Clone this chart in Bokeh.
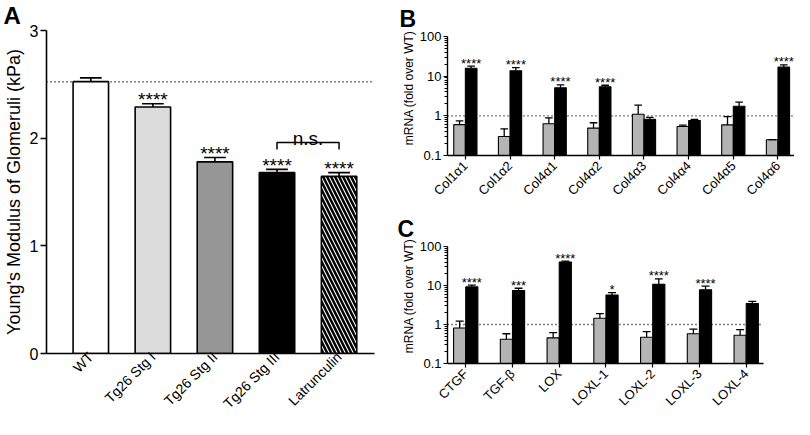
import math
from bokeh.plotting import figure
from bokeh.layouts import row, column
from bokeh.models import (Range1d, Title, FixedTicker, CustomJSTickFormatter,
                          ColumnDataSource, Span)
from bokeh.core.properties import value
from bokeh.embed import file_html
from bokeh.resources import INLINE

FONT = "Liberation Sans"

# ---------------- Panel A data ----------------
a_groups = ["WT", "Tg26 Stg I", "Tg26 Stg II", "Tg26 Stg III", "Latrunculin"]
a_mean = [2.525, 2.29, 1.78, 1.68, 1.645]
a_sem = [0.035, 0.03, 0.04, 0.03, 0.035]
a_sig = ["", "****", "****", "****", "****"]
a_colors = ["#ffffff", "#dcdcdc", "#969696", "#000000", "#ffffff"]
a_hatch = [" ", " ", " ", " ", "\\"]
a_ns_pair = [3, 4]
a_ns_label = "n.s."
a_ylabel = "Young's Modulus of Glomeruli (kPa)"
a_yticks = [0, 1, 2, 3]

# ---------------- Panel B data ----------------
b_genes = ["Col1α1", "Col1α2", "Col4α1", "Col4α2", "Col4α3", "Col4α4", "Col4α5", "Col4α6"]
b_stg1 = [0.60, 0.30, 0.63, 0.49, 1.10, 0.54, 0.59, 0.25]
b_stg1_hi = [0.75, 0.47, 0.89, 0.67, 1.86, 0.58, 0.96, 0.25]
b_stg3 = [15.9, 13.6, 5.1, 5.4, 0.82, 0.76, 1.75, 16.9]
b_stg3_hi = [17.9, 16.5, 6.0, 5.9, 0.91, 0.81, 2.21, 19.3]
b_sig = ["****", "****", "****", "****", "", "", "", "****"]

# ---------------- Panel C data ----------------
c_genes = ["CTGF", "TGF-β", "LOX", "LOXL-1", "LOXL-2", "LOXL-3", "LOXL-4"]
c_stg1 = [0.81, 0.42, 0.455, 1.45, 0.47, 0.58, 0.53]
c_stg1_hi = [1.22, 0.58, 0.62, 1.91, 0.66, 0.76, 0.74]
c_stg3 = [9.2, 7.4, 40.0, 5.7, 10.7, 7.8, 3.45]
c_stg3_hi = [10.2, 8.5, 42.0, 6.6, 14.8, 9.6, 3.9]
c_sig = ["****", "***", "****", "*", "****", "****", ""]

mrna_label = "mRNA (fold over WT)"
log_ticks = [0.1, 1, 10, 100]
GRAY = "#b4b4b4"


def style_common(p):
    p.xgrid.visible = False
    p.ygrid.visible = False
    p.outline_line_color = None
    p.background_fill_color = "white"
    p.border_fill_color = "white"
    try:
        p.frame_align = False
    except Exception:
        pass


def letter_title(p, letter, offset, standoff, size="24px"):
    p.add_layout(Title(text=letter, align="left", offset=offset, standoff=standoff,
                       vertical_align="top",
                       text_font=FONT, text_font_size=size, text_font_style="bold",
                       text_color="black"), "above")


# ================= Panel A =================
AW, AH = 398, 419
AL, AR, AT, AB = 41, 24, 30, 64
ax0, ax1 = -0.714, 4.571

pa = figure(width=AW, height=AH, x_range=Range1d(ax0, ax1), y_range=Range1d(0, 3),
            output_backend="svg", toolbar_location=None, title=None,
            min_border_left=AL, min_border_right=AR, min_border_top=AT, min_border_bottom=AB)
style_common(pa)

ax = list(range(len(a_groups)))
a_hi = [m + s for m, s in zip(a_mean, a_sem)]
asrc = ColumnDataSource(dict(x=ax, top=a_mean, hi=a_hi, color=a_colors, hatch=a_hatch, sig=a_sig,
                             cl=[x - 0.175 for x in ax], cr=[x + 0.175 for x in ax]))

pa.add_layout(Span(location=a_mean[0], dimension="width", line_dash="1 3", line_width=1.5,
                   line_color="black", level="underlay"))
pa.vbar(x="x", top="top", bottom=0, width=0.571, fill_color="color", line_color="black",
        line_width=1.6, hatch_pattern="hatch", hatch_color="black", hatch_scale=8,
        hatch_weight=2.5, source=asrc)
pa.segment(x0="x", y0="top", x1="x", y1="hi", line_color="black", line_width=1.6, source=asrc)
pa.segment(x0="cl", y0="hi", x1="cr", y1="hi", line_color="black", line_width=1.6, source=asrc)
pa.text(x="x", y="hi", text="sig", text_align="center", text_baseline="alphabetic",
        text_font=value(FONT), text_font_size="19px", y_offset=-4, text_color="black", source=asrc)

# n.s. bracket
ns_y = max(a_hi[a_ns_pair[0]], a_hi[a_ns_pair[1]]) + 0.25
ns_drop = 0.065
pa.multi_line(xs=[[a_ns_pair[0], a_ns_pair[0], a_ns_pair[1], a_ns_pair[1]]],
              ys=[[ns_y - ns_drop, ns_y, ns_y, ns_y - ns_drop]], line_color="black", line_width=1.5)
pa.text(x=[(a_ns_pair[0] + a_ns_pair[1]) / 2], y=[ns_y], text=[a_ns_label], text_align="center",
        text_baseline="alphabetic", text_font=value(FONT), text_font_size="19px", y_offset=-4)

pa.xaxis.ticker = FixedTicker(ticks=ax)
pa.xaxis.major_label_overrides = {i: g for i, g in enumerate(a_groups)}
pa.xaxis.major_label_orientation = math.pi / 4
pa.xaxis.major_label_text_font = FONT
pa.xaxis.major_label_text_font_size = "14px"
pa.xaxis.major_label_text_color = "black"
pa.xaxis.major_tick_out = 0
pa.xaxis.major_tick_in = 0
pa.xaxis.minor_tick_out = 0
pa.xaxis.minor_tick_in = 0
pa.xaxis.major_label_standoff = 1
pa.xaxis.axis_line_width = 1.6
pa.xaxis.axis_line_color = "black"

pa.yaxis.ticker = FixedTicker(ticks=a_yticks)
pa.yaxis.axis_label = a_ylabel
pa.yaxis.axis_label_text_font = FONT
pa.yaxis.axis_label_text_font_size = "18px"
pa.yaxis.axis_label_text_font_style = "normal"
pa.yaxis.axis_label_text_color = "black"
pa.yaxis.axis_label_standoff = 3
pa.yaxis.major_label_text_font = FONT
pa.yaxis.major_label_text_font_size = "16px"
pa.yaxis.major_label_text_color = "black"
pa.yaxis.major_tick_out = 6
pa.yaxis.major_tick_in = 0
pa.yaxis.major_tick_line_width = 1.6
pa.yaxis.minor_tick_out = 0
pa.yaxis.minor_tick_in = 0
pa.yaxis.major_label_standoff = 2
pa.yaxis.axis_line_width = 1.6
pa.yaxis.axis_line_color = "black"

letter_title(pa, "A", -43, 0)


# ================= Panels B, C =================
def expr_panel(letter, genes, s1, s1hi, s3, s3hi, sig, W, H, L, R, T, B, x0, x1,
               lab_offset, letter_standoff):
    p = figure(width=W, height=H, x_range=Range1d(x0, x1), y_range=Range1d(0.1, 100),
               y_axis_type="log", output_backend="svg", toolbar_location=None, title=None,
               min_border_left=L, min_border_right=R, min_border_top=T, min_border_bottom=B)
    style_common(p)
    n = len(genes)
    xs = list(range(n))
    off, bw, cap = 0.13, 0.26, 0.085
    g = ColumnDataSource(dict(x=[x - off for x in xs], top=s1, hi=s1hi,
                              cl=[x - off - cap for x in xs], cr=[x - off + cap for x in xs]))
    k = ColumnDataSource(dict(x=[x + off for x in xs], top=s3, hi=s3hi, sig=sig,
                              cl=[x + off - cap for x in xs], cr=[x + off + cap for x in xs]))
    p.add_layout(Span(location=1, dimension="width", line_dash="1 3", line_width=1.3,
                      line_color="black", level="underlay"))
    for src, col in ((g, GRAY), (k, "black")):
        p.vbar(x="x", top="top", bottom=0.1, width=bw, fill_color=col, line_color="black",
               line_width=1.1, source=src)
        p.segment(x0="x", y0="top", x1="x", y1="hi", line_color="black", line_width=1.3, source=src)
        p.segment(x0="cl", y0="hi", x1="cr", y1="hi", line_color="black", line_width=1.3, source=src)
    p.text(x="x", y="hi", text="sig", text_align="center", text_baseline="alphabetic",
           text_font=value(FONT), text_font_size="13px", y_offset=-3, source=k)

    p.xaxis.ticker = FixedTicker(ticks=xs)
    p.xaxis.major_label_overrides = {i: gname for i, gname in enumerate(genes)}
    p.xaxis.major_label_orientation = math.pi / 4
    p.xaxis.major_label_text_font = FONT
    p.xaxis.major_label_text_font_size = "13px"
    p.xaxis.major_label_text_color = "black"
    p.xaxis.major_tick_out = 4
    p.xaxis.major_tick_in = 0
    p.xaxis.major_tick_line_width = 1.2
    p.xaxis.minor_tick_out = 0
    p.xaxis.minor_tick_in = 0
    p.xaxis.major_label_standoff = 4
    p.xaxis.axis_line_width = 1.4
    p.xaxis.axis_line_color = "black"

    minor = [m * 10 ** e for e in (-1, 0, 1) for m in range(2, 10)]
    p.yaxis.ticker = FixedTicker(ticks=log_ticks, minor_ticks=minor)
    p.yaxis.formatter = CustomJSTickFormatter(code="return tick.toString();")
    p.yaxis.major_label_text_font = FONT
    p.yaxis.major_label_text_font_size = "13px"
    p.yaxis.major_label_text_color = "black"
    p.yaxis.major_tick_out = 4
    p.yaxis.major_tick_in = 0
    p.yaxis.major_tick_line_width = 1.2
    p.yaxis.minor_tick_out = 3
    p.yaxis.minor_tick_in = 0
    p.yaxis.minor_tick_line_width = 1
    p.yaxis.major_label_standoff = 2
    p.yaxis.axis_line_width = 1.4
    p.yaxis.axis_line_color = "black"

    p.add_layout(Title(text=mrna_label, align="right", offset=lab_offset, standoff=2,
                       text_font=FONT, text_font_size="12px", text_font_style="normal",
                       text_color="black"), "left")
    letter_title(p, letter, -L - 5, letter_standoff, "23px")
    return p


pb = expr_panel("B", b_genes, b_stg1, b_stg1_hi, b_stg3, b_stg3_hi, b_sig,
                396, 210, 43, 0, 36, 55, -0.4, 7.37, -6, 6)
pc = expr_panel("C", c_genes, c_stg1, c_stg1_hi, c_stg3, c_stg3_hi, c_sig,
                396, 209, 45, 31, 36, 56, -0.39, 6.37, -8, 6)

layout = row(pa, column(pb, pc, spacing=0), spacing=0)

open("out.html", "w").write(file_html(layout, INLINE))
